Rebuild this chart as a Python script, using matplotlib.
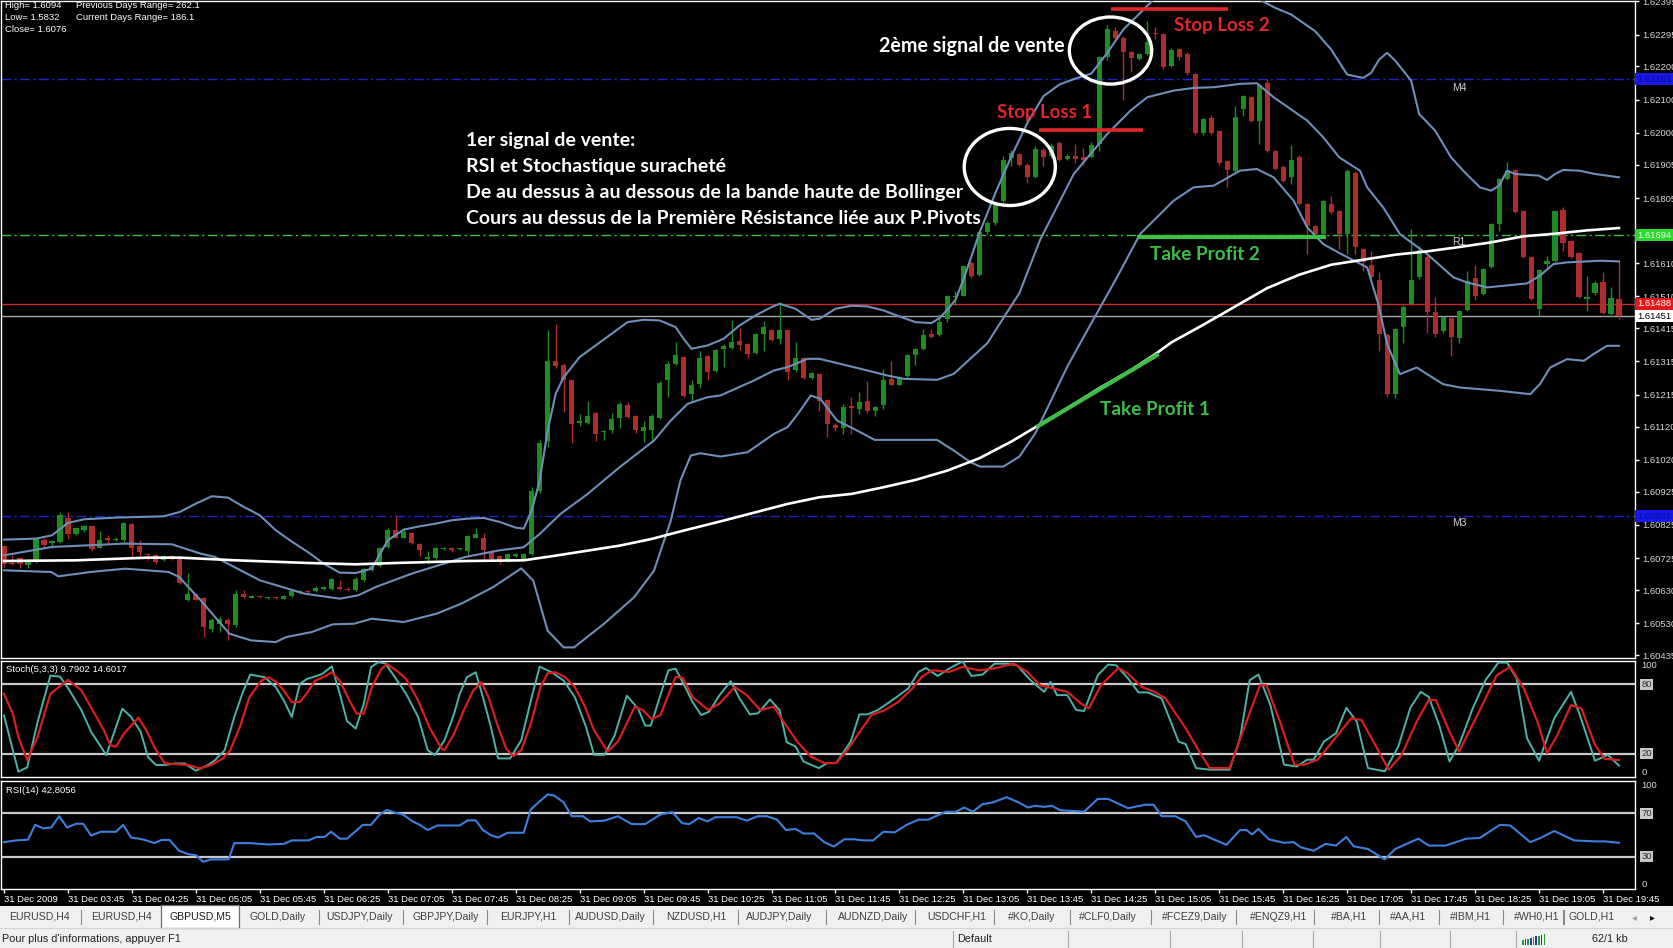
import matplotlib
matplotlib.use("Agg")
import matplotlib.pyplot as plt
import matplotlib.transforms as mtransforms
from matplotlib.patches import Ellipse, Rectangle
import numpy as np

W, H, DPI = 1674, 948, 100
BASE, PIP = 1.6, 0.0001

# GBPUSD M5 candles, 31 Dec 2009, in pips above 1.6000
opens = [
    76.1, 71.0, 72.7, 70.4, 71.4, 77.9, 77.1, 77.4, 84.7, 79.7,
    80.9, 82.1, 75.7, 78.7, 78.0, 77.9, 82.9, 76.3, 73.9, 73.4,
    72.1, 73.1, 72.4, 60.1, 61.7, 60.6, 51.4, 52.9, 54.1, 52.4,
    61.7, 60.7, 61.0, 60.5, 60.9, 60.4, 61.2, 62.1, 62.8, 62.6,
    63.3, 63.2, 63.9, 63.3, 62.9, 65.9, 69.1, 70.1, 75.9, 80.9,
    78.7, 80.2, 76.8, 72.4, 72.6, 75.2, 75.7, 75.2, 74.7, 78.7,
    78.7, 74.7, 73.1, 71.7, 73.2, 72.4, 73.8, 92.6, 107.6, 131.6,
    130.3, 125.8, 113.0, 113.0, 116.0, 110.3, 111.0, 114.6, 118.6, 115.3,
    110.8, 111.0, 114.6, 126.0, 130.6, 132.8, 121.8, 124.6, 133.0, 128.6,
    135.3, 135.5, 137.6, 136.8, 134.0, 139.8, 141.0, 138.1, 141.0, 128.8,
    132.6, 126.5, 127.8, 120.1, 112.6, 111.6, 118.2, 117.2, 119.8, 116.8,
    118.6, 126.3, 124.5, 127.0, 133.3, 135.3, 139.6, 139.3, 144.3, 150.8,
    151.2, 161.0, 157.5, 170.2, 172.9, 179.7, 192.5, 193.7, 190.5, 186.9,
    194.9, 193.0, 196.9, 192.2, 193.2, 192.7, 192.9, 196.7, 222.7, 230.7,
    228.5, 224.2, 222.2, 223.7, 229.8, 229.7, 220.2, 225.2, 223.7, 217.7,
    199.9, 204.5, 200.7, 191.5, 188.7, 207.2, 210.7, 203.7, 214.9, 194.5,
    189.9, 186.7, 192.7, 178.7, 172.2, 169.7, 178.7, 176.5, 169.7, 187.9,
    165.2, 160.5, 155.9, 139.5, 121.7, 141.7, 148.7, 156.7, 162.9, 146.2,
    140.5, 144.5, 138.5, 146.9, 156.5, 151.7, 159.9, 172.7, 186.2, 188.9,
    176.7, 162.9, 147.2, 160.8, 161.5, 176.9, 167.5, 163.9, 150.2, 151.9,
    155.2, 145.7, 150.2,
]
highs = [
    76.5, 73.5, 73.0, 71.5, 79.0, 78.5, 78.0, 86.5, 86.4, 82.0,
    82.5, 82.3, 80.7, 79.4, 78.9, 83.5, 83.2, 78.1, 74.1, 73.9,
    73.5, 73.4, 72.5, 68.1, 62.0, 61.0, 54.5, 55.1, 54.5, 62.9,
    63.0, 61.5, 61.5, 61.0, 61.2, 61.5, 63.0, 62.9, 63.0, 64.1,
    64.2, 66.5, 66.1, 63.9, 67.0, 69.5, 70.4, 76.0, 81.6, 85.6,
    81.5, 80.5, 77.1, 74.6, 76.0, 75.8, 76.0, 75.7, 79.4, 81.5,
    80.1, 75.0, 73.4, 74.0, 74.0, 74.0, 94.0, 108.0, 140.8, 142.6,
    131.0, 126.0, 115.8, 119.6, 116.5, 111.0, 116.0, 119.5, 119.4, 115.6,
    113.6, 115.8, 125.5, 131.6, 137.3, 133.2, 126.0, 134.5, 133.3, 135.3,
    136.8, 144.0, 141.5, 137.0, 140.0, 143.6, 141.3, 149.3, 141.2, 137.3,
    132.8, 128.3, 128.0, 120.3, 113.0, 118.8, 120.8, 122.5, 125.6, 118.3,
    129.3, 131.6, 127.0, 133.6, 135.6, 141.3, 141.3, 145.8, 151.3, 152.5,
    160.5, 161.5, 170.5, 173.5, 179.0, 193.0, 195.0, 194.0, 191.0, 196.0,
    195.5, 197.0, 197.5, 193.8, 196.7, 195.5, 197.3, 223.0, 232.5, 231.7,
    229.0, 224.5, 224.0, 233.7, 231.7, 230.0, 225.5, 225.5, 224.2, 218.0,
    204.5, 205.5, 201.0, 192.0, 208.2, 211.5, 211.0, 215.0, 216.2, 195.0,
    190.3, 196.5, 193.5, 179.0, 172.5, 180.0, 181.2, 177.0, 189.2, 188.5,
    165.5, 164.5, 158.2, 140.0, 141.5, 148.3, 171.2, 166.0, 163.3, 150.7,
    145.0, 144.8, 146.8, 158.7, 160.5, 159.5, 173.0, 186.5, 191.4, 189.2,
    177.0, 163.2, 159.2, 163.2, 177.0, 177.7, 167.8, 164.2, 157.2, 155.5,
    158.2, 153.7, 161.5,
]
lows = [
    70.0, 70.5, 69.5, 69.5, 71.0, 75.5, 75.7, 77.0, 78.4, 79.5,
    80.5, 74.8, 75.5, 77.1, 77.7, 77.5, 72.7, 73.1, 72.1, 70.9,
    71.8, 72.0, 64.9, 59.7, 59.9, 48.9, 50.5, 50.4, 48.1, 52.0,
    60.5, 60.5, 60.5, 60.2, 60.3, 60.2, 61.0, 61.9, 62.2, 62.4,
    63.1, 62.9, 62.9, 62.8, 62.7, 65.5, 68.8, 69.9, 75.7, 78.5,
    78.5, 76.8, 73.3, 71.2, 72.4, 75.0, 74.3, 75.0, 73.4, 78.5,
    72.2, 72.0, 70.8, 71.5, 73.0, 72.2, 73.5, 92.0, 106.0, 129.5,
    116.3, 107.0, 112.3, 112.8, 107.8, 108.0, 110.0, 111.6, 114.5, 110.0,
    107.3, 107.3, 114.3, 120.8, 130.3, 121.0, 119.8, 123.6, 125.8, 128.3,
    129.8, 135.2, 134.8, 132.6, 133.8, 134.6, 137.5, 136.6, 126.0, 128.3,
    126.3, 126.3, 116.8, 108.8, 110.8, 109.8, 109.8, 115.8, 116.0, 115.3,
    117.3, 124.3, 124.3, 126.6, 130.3, 135.0, 138.5, 139.0, 143.3, 148.5,
    151.0, 156.5, 157.0, 169.8, 172.5, 179.0, 190.0, 190.0, 184.9, 186.5,
    190.2, 192.5, 191.5, 191.8, 190.9, 190.5, 192.5, 194.7, 222.0, 228.0,
    209.9, 218.2, 221.8, 223.5, 228.2, 219.2, 219.8, 222.0, 217.5, 199.5,
    199.5, 199.5, 190.5, 183.7, 188.3, 205.0, 203.3, 196.7, 194.3, 188.8,
    185.3, 184.7, 178.3, 163.7, 169.3, 169.3, 175.8, 165.2, 163.7, 163.7,
    158.7, 156.5, 134.7, 120.9, 120.7, 136.9, 148.3, 156.3, 139.9, 138.7,
    140.1, 133.2, 136.9, 146.5, 149.9, 151.3, 159.5, 170.5, 185.9, 175.9,
    162.6, 149.9, 145.2, 159.7, 161.2, 164.7, 162.4, 150.4, 146.7, 151.5,
    145.6, 144.9, 144.3,
]
closes = [
    70.9, 70.8, 70.9, 71.4, 78.4, 76.4, 77.6, 85.4, 79.9, 81.7,
    82.3, 75.4, 78.1, 77.9, 78.3, 83.1, 75.7, 74.4, 73.4, 71.4,
    73.2, 72.3, 65.1, 61.7, 60.1, 51.9, 53.9, 54.4, 52.7, 61.9,
    60.9, 61.1, 60.8, 60.7, 60.6, 61.3, 62.7, 62.6, 62.4, 63.7,
    63.9, 66.2, 63.3, 63.0, 66.3, 69.2, 70.1, 75.7, 80.9, 78.7,
    80.5, 77.1, 74.9, 72.9, 75.6, 75.5, 74.9, 75.5, 79.1, 79.7,
    74.9, 72.4, 71.9, 73.7, 73.7, 73.7, 92.6, 107.0, 131.6, 130.0,
    125.8, 112.8, 113.8, 115.3, 109.8, 110.8, 114.3, 118.8, 114.8, 111.0,
    111.8, 115.3, 125.1, 130.8, 133.3, 121.3, 124.3, 132.6, 128.3, 135.0,
    136.0, 137.3, 136.3, 133.6, 139.8, 141.8, 137.8, 140.8, 128.3, 132.6,
    126.5, 128.0, 119.8, 112.8, 111.6, 118.0, 117.6, 119.3, 116.6, 118.0,
    125.8, 124.5, 126.8, 133.3, 135.3, 139.3, 138.8, 143.3, 151.0, 151.0,
    160.0, 157.2, 170.2, 172.9, 178.5, 191.9, 194.1, 190.5, 186.7, 195.2,
    192.7, 196.0, 191.9, 193.2, 192.2, 191.9, 196.5, 222.7, 231.2, 228.5,
    224.2, 222.5, 223.7, 227.2, 229.6, 219.7, 224.9, 222.7, 217.9, 199.9,
    204.2, 199.9, 190.9, 188.9, 204.9, 211.2, 203.7, 214.5, 194.7, 189.2,
    185.7, 191.9, 178.7, 172.2, 169.7, 179.7, 176.2, 169.7, 188.5, 165.9,
    161.2, 156.9, 139.7, 121.9, 141.2, 147.9, 155.9, 164.9, 146.2, 139.7,
    144.7, 138.9, 146.5, 155.7, 151.2, 159.2, 172.7, 186.2, 188.7, 176.2,
    162.9, 150.2, 158.9, 161.5, 176.7, 166.9, 162.7, 150.7, 150.9, 154.9,
    145.9, 150.5, 145.1,
]

# indicators: (bar, value); bands / MA in pips above 1.6000
bb_upper = [
    (0, 78.1), (4, 78.4), (6, 79.4), (8, 83.1), (10, 84.2), (14, 84.7), (20, 85.1),
    (22, 86.4), (24, 88.9), (26, 91.1), (28, 90.7), (30, 87.9), (32, 85.4), (34, 80.9),
    (36, 77.5), (38, 74.4), (40, 70.9), (42, 68.2), (44, 68.1), (46, 69.4), (48, 77.9),
    (50, 81.1), (52, 82.1), (54, 82.9), (56, 83.9), (58, 84.4), (60, 84.6), (62, 83.4),
    (64, 81.7), (65, 81.4), (66, 86.8), (67, 95.8), (68, 110.8), (69, 121.8), (70, 126.8),
    (72, 132.8), (74, 136.3), (76, 139.8), (78, 143.3), (80, 144.0), (82, 143.8),
    (84, 141.8), (85, 138.3), (86, 135.3), (88, 136.3), (90, 138.3), (92, 142.3),
    (94, 145.3), (96, 147.8), (97, 148.8), (99, 147.3), (101, 144.0), (102, 144.3),
    (104, 147.3), (106, 148.2), (108, 148.0), (110, 146.8), (112, 145.0), (114, 143.3),
    (116, 143.0), (117, 144.5), (118, 147.0), (119, 150.0), (120, 156.0), (122, 170.0),
    (124, 182.0), (126, 193.0), (128, 203.0), (130, 211.0), (132, 214.5), (134, 216.3),
    (136, 217.8), (138, 224.0), (140, 231.0), (142, 235.7), (144, 240.5), (146, 244.0),
    (150, 247.0), (154, 245.0), (157, 240.0), (159, 237.5), (161, 235.5), (164, 230.5),
    (166, 225.0), (168, 217.5), (170, 216.5), (171, 218.0), (172, 222.0), (173, 224.0),
    (174, 221.7), (176, 215.7), (177, 205.7), (179, 200.7), (181, 192.7), (182.5, 188.7),
    (184.6, 183.7), (186, 182.7), (187, 184.2), (188, 188.7), (189, 187.7), (192, 187.2),
    (193, 185.9), (194, 187.7), (195, 188.9), (197, 188.7), (199, 187.7), (202, 186.7),
]
bb_middle = [
    (0, 73.4), (6, 75.9), (15, 76.9), (21, 76.7), (24.6, 73.9), (26.4, 72.9), (32, 65.9),
    (37.6, 61.9), (42, 60.4), (44.3, 61.4), (46.5, 63.9), (51, 67.9), (53, 69.4),
    (57.7, 72.9), (62, 74.9), (65, 75.8), (67, 79.8), (69.6, 85.8), (73, 91.8), (77, 99.8),
    (81.3, 107.8), (83.4, 113.8), (85.5, 118.8), (88, 120.8), (89.6, 121.3), (93.8, 125.8),
    (96.3, 128.8), (98, 129.8), (100.5, 132.3), (102, 132.3), (106.3, 129.8),
    (110.5, 127.3), (112.5, 126.3), (116.7, 126.0), (118.8, 127.8), (123, 137.0),
    (127, 152.0), (129.6, 168.0), (133.8, 187.7), (138, 199.7), (140.9, 206.7),
    (143, 210.7), (146.3, 212.7), (148.8, 213.5), (151.3, 213.7), (154.6, 214.7),
    (156.7, 214.9), (158.8, 210.7), (163, 203.7), (165, 198.7), (167, 192.7),
    (169.6, 188.7), (170.5, 183.7), (172.5, 177.7), (174.6, 169.7), (178, 163.7),
    (181.3, 156.7), (183, 155.2), (185.5, 153.7), (190.5, 154.9), (192.1, 157.2),
    (193.8, 160.7), (195.5, 161.2), (199.6, 161.7), (202, 161.5),
]
bb_lower = [
    (0, 68.9), (5.9, 68.4), (6.8, 67.1), (10.8, 68.4), (15.2, 69.4), (20.6, 68.4),
    (21.9, 66.9), (24.6, 59.9), (28.2, 49.9), (30.9, 47.9), (34, 47.4), (35.3, 48.9),
    (38.5, 50.4), (41.1, 52.7), (43.8, 52.9), (46, 54.4), (50, 53.4), (54.1, 55.9),
    (57.2, 58.9), (61.2, 63.9), (64.7, 69.5), (66.2, 65.8), (68, 50.8), (70, 45.8),
    (71.3, 45.8), (75, 52.8), (78.8, 60.8), (81.3, 68.8), (83.4, 83.8), (84.6, 95.8),
    (85.9, 103.3), (87.1, 104.0), (89.6, 103.0), (93, 104.3), (96.3, 109.8), (98, 111.8),
    (99.3, 115.8), (100.9, 121.3), (102.1, 120.3), (104.2, 113.8), (106.3, 111.3),
    (108.9, 108.0), (113.8, 108.0), (116.7, 108.0), (118.8, 104.8), (120.9, 101.3),
    (122.1, 100.0), (125, 100.0), (127, 103.0), (129, 110.0), (131, 120.0), (133, 130.0),
    (135, 138.7), (139.2, 156.7), (142.1, 169.7), (146.3, 179.7), (148.8, 183.7),
    (151.3, 184.2), (154.6, 188.7), (156.7, 189.2), (158.8, 186.7), (161.3, 179.7),
    (163, 171.7), (165, 166.7), (167.1, 163.9), (170.5, 159.7), (171.9, 148.7),
    (173, 136.7), (174.6, 127.7), (176.7, 129.7), (178, 127.7), (180, 124.7),
    (182.1, 123.7), (184.6, 123.2), (187.1, 122.7), (190.9, 121.7), (192.1, 124.7),
    (193.4, 129.7), (195.5, 132.2), (197.6, 131.7), (198.8, 133.7), (200.5, 136.2),
    (202, 136.2),
]
ma_line = [
    (0, 71.7), (9, 71.9), (18, 72.7), (22, 72.7), (29, 71.9), (38, 71.1), (44, 70.7),
    (49, 71.1), (58, 71.7), (65, 71.9), (69, 73.3), (73, 74.8), (77, 76.3), (81, 78.3),
    (85, 80.8), (90, 83.8), (94, 86.3), (98, 88.8), (102, 90.8), (106, 91.8), (110, 93.8),
    (114, 96.0), (118, 98.8), (122, 102.5), (126, 107.5), (129, 111.8), (133, 117.5),
    (137, 123.5), (141, 129.0), (144, 133.7), (146, 137.2), (150, 142.5), (154, 148.0),
    (158, 153.5), (162, 157.5), (166, 160.5), (170, 162.0), (174, 163.5), (178, 164.5),
    (182, 165.8), (186, 167.2), (190, 169.0), (194, 169.8), (198, 170.8), (202, 171.5),
]
stoch_main = [
    (0, 53.1), (1.8, 4.6), (2.9, 8.3), (4.2, 47.4), (5.8, 87.4), (7, 86.6), (8.2, 74.6),
    (9.7, 57.4), (10.9, 38.9), (12.8, 18.9), (14.8, 58.9), (15.9, 51.7), (17.1, 38.9),
    (18, 17.4), (19, 10.3), (20.2, 10.3), (21.4, 11.7), (22.6, 11.7), (24, 5.4),
    (25.5, 10.3), (26.4, 14.6), (27.6, 23.1), (28.8, 51.7), (29.8, 71.7), (30.8, 88.3),
    (32.6, 86.0), (34, 77.4), (35, 66.0), (36, 51.7), (37, 80.3), (37.9, 84.6),
    (38.9, 86.6), (39.8, 88.9), (41, 95.4), (42, 71.7), (42.9, 48.3), (44, 41.7),
    (45, 63.1), (45.9, 94.6), (46.8, 98.9), (47.7, 98.0), (48.9, 86.0), (50.3, 71.7),
    (51.8, 51.7), (53, 23.1), (53.9, 18.9), (55.1, 31.7), (56.3, 54.6), (57, 71.7),
    (57.9, 86.0), (59, 90.3), (59.9, 68.9), (60.9, 43.1), (61.8, 16.0), (63.3, 16.0),
    (64.7, 31.7), (65.9, 66.0), (67, 95.1), (68.5, 90.3), (70, 83.1), (71.4, 68.9),
    (72.8, 43.1), (73.8, 19.1), (75.1, 19.1), (76.4, 36.3), (77.9, 70.0), (79.3, 59.1),
    (80.2, 44.3), (80.9, 44.3), (82.1, 70.6), (83.1, 92.0), (84, 93.4), (85.3, 76.3),
    (86.1, 64.9), (87.2, 53.4), (88.2, 56.3), (89.5, 70.6), (90.9, 82.6), (92, 67.7),
    (93.3, 54.0), (94.3, 54.9), (95.8, 66.9), (97, 57.7), (97.9, 30.0), (99, 26.3),
    (100, 13.4), (101.9, 7.7), (103, 12.0), (104.1, 12.0), (105.9, 30.6), (107, 54.0),
    (108, 54.0), (109.3, 57.7), (111.4, 67.7), (113.1, 76.3), (114.4, 90.6), (115.3, 94.0),
    (116.8, 87.1), (118.2, 93.4), (119.9, 99.7), (121, 87.1), (122.4, 88.3), (123.9, 97.7),
    (125.4, 97.7), (126.7, 96.3), (128.4, 83.4), (130.1, 73.4), (130.9, 82.0),
    (131.7, 70.6), (133, 70.6), (134.1, 57.7), (135.1, 56.9), (136.8, 87.7), (138.1, 96.9),
    (139.1, 96.3), (140.6, 84.9), (141.9, 72.9), (143.1, 72.9), (144.8, 67.7),
    (146.9, 30.6), (147.8, 28.3), (149.1, 7.7), (150.8, 6.3), (153.3, 6.3), (154.6, 33.4),
    (155.8, 83.4), (156.9, 88.3), (158.4, 62.0), (160.1, 10.6), (161.7, 9.1), (163, 14.9),
    (163.8, 14.9), (165.1, 30.6), (166.6, 37.7), (167.9, 59.7), (169.2, 47.7),
    (170.6, 7.7), (172.7, 4.9), (174.4, 26.3), (175.9, 59.7), (177.2, 73.4), (178.2, 69.1),
    (179.5, 44.9), (180.8, 13.4), (182, 27.7), (183.7, 59.1), (185.3, 83.4), (186.9, 98.6),
    (188, 98.6), (189.2, 84.9), (190.5, 33.4), (192, 14.0), (193.9, 50.6), (196, 73.4),
    (197.1, 53.4), (199, 14.0), (200.6, 19.1), (202, 9.8),
]
stoch_signal = [
    (0, 71.7), (1.1, 54.6), (1.8, 34.6), (2.9, 14.6), (4.2, 34.6), (5.8, 71.7), (8, 83.7),
    (9.7, 74.6), (11.1, 57.4), (12.5, 40.3), (13.3, 27.4), (14, 26.0), (15, 37.4),
    (16.8, 51.1), (17.8, 40.3), (18.8, 26.0), (20.1, 11.7), (21.6, 11.1), (23.1, 10.3),
    (24.5, 7.4), (25.9, 10.3), (27.4, 16.0), (28.3, 23.1), (29.5, 43.1), (30.7, 68.9),
    (32.2, 83.1), (33.1, 86.0), (34.1, 81.7), (35, 74.6), (36, 64.6), (37, 64.6),
    (37.9, 72.3), (38.9, 83.1), (40.1, 86.6), (41, 90.3), (42, 83.1), (43.2, 66.0),
    (44.1, 54.6), (45, 54.6), (46, 77.4), (47.2, 93.1), (47.9, 97.4), (49.1, 91.7),
    (50.3, 84.6), (51.8, 66.0), (53.2, 43.1), (54.7, 24.6), (55.1, 23.1), (56.3, 37.4),
    (57.5, 57.4), (58.7, 74.6), (59.7, 81.7), (60.6, 68.9), (61.8, 43.1), (62.8, 24.6),
    (63.7, 18.0), (64.7, 23.1), (65.9, 46.0), (67.1, 77.4), (68, 89.4), (69, 90.3),
    (70.2, 86.0), (71.4, 77.4), (72.6, 61.7), (73.8, 40.3), (75.5, 22.0), (76.8, 30.6),
    (78.9, 60.6), (79.9, 57.7), (81, 50.0), (82.1, 53.4), (84, 86.3), (84.9, 85.4),
    (86.1, 69.1), (88.1, 57.7), (89.5, 63.4), (91.4, 77.7), (92.9, 70.6), (94.6, 57.7),
    (96.3, 60.6), (97.5, 47.7), (99.2, 30.6), (100.9, 17.7), (102.6, 12.0), (104.1, 12.0),
    (105.5, 23.4), (107.2, 40.6), (108.5, 53.4), (110.2, 57.7), (111.9, 64.9),
    (113.6, 76.3), (114.8, 86.3), (116.1, 92.0), (118.2, 90.6), (119.9, 94.9), (122, 92.0),
    (123.7, 93.4), (126.3, 97.7), (128, 90.6), (129.6, 79.1), (131.3, 76.3), (133, 73.4),
    (134.7, 63.4), (135.7, 59.1), (137.2, 79.1), (139.4, 94.0), (140.6, 89.1),
    (142.3, 77.7), (143.9, 73.4), (145.3, 67.7), (147.8, 42.0), (149.5, 22.0), (150.8, 7.7),
    (153.3, 7.7), (155.4, 47.7), (157.1, 79.1), (157.9, 79.1), (159.6, 47.7), (161.4, 10.6),
    (162.6, 10.6), (164.3, 14.9), (166, 29.1), (168.5, 50.6), (169.8, 49.1), (171.5, 27.7),
    (173.2, 6.3), (174.8, 19.1), (176.8, 49.1), (178.2, 66.3), (179.1, 66.3), (180.8, 39.1),
    (182, 22.0), (184.6, 57.7), (186.7, 87.7), (188.4, 94.9), (190.1, 76.3), (191.8, 47.7),
    (193, 20.6), (194.3, 36.3), (196, 62.0), (197.3, 59.1), (199, 27.7), (200.2, 15.7),
    (202, 14.6),
]
rsi14 = [
    (0, 43.4), (1.5, 45.0), (3, 45.7), (3.9, 59.4), (4.9, 56.2), (5.9, 56.9), (6.9, 67.4),
    (7.9, 56.9), (9, 60.4), (9.9, 60.4), (10.9, 49.5), (12.1, 53.0), (14, 53.0),
    (14.9, 59.4), (15.9, 47.6), (16.9, 46.6), (17.8, 45.0), (18.8, 42.5), (19.7, 45.4),
    (20.7, 45.4), (21.9, 35.4), (23.1, 32.2), (24, 31.3), (24.9, 25.2), (25.9, 27.4),
    (28.1, 27.4), (28.8, 42.5), (30.7, 42.5), (33.1, 41.2), (35, 41.8), (36, 45.0),
    (38.1, 45.0), (39.1, 48.2), (40.1, 48.2), (40.9, 53.0), (42, 46.6), (42.9, 46.6),
    (44.9, 59.4), (45.9, 59.4), (47, 69.0), (47.9, 73.2), (48.9, 70.6), (49.9, 69.0),
    (51.1, 62.6), (52, 59.4), (53, 54.6), (54.2, 58.8), (57, 58.8), (58, 63.6), (59, 63.6),
    (59.9, 54.6), (60.9, 49.8), (61.8, 47.6), (63, 52.1), (65, 52.1), (65.9, 73.8),
    (67.1, 81.8), (68, 87.6), (68.8, 86.6), (70, 80.2), (71, 67.4), (72.4, 67.4),
    (73.3, 62.6), (75.1, 63.3), (76.8, 67.4), (78.5, 60.1), (80.2, 60.1), (82.1, 69.0),
    (83.6, 71.3), (84.8, 61.0), (85.7, 60.1), (86.9, 65.8), (88, 62.6), (89, 66.5),
    (91.6, 66.5), (92.9, 63.3), (94.3, 67.4), (95.4, 67.4), (96.7, 64.2), (97.8, 54.6),
    (99, 55.6), (100, 51.4), (101.3, 51.4), (102.6, 43.4), (103.8, 39.3), (105.1, 46.0),
    (106.4, 46.0), (107.5, 45.0), (108.7, 45.0), (110, 53.0), (111.4, 52.4), (112.9, 59.4),
    (114.4, 64.2), (115.6, 64.2), (117.8, 71.6), (119, 71.3), (120.1, 75.4), (121.2, 71.6),
    (122.4, 78.6), (123.7, 80.2), (125.4, 85.0), (126.9, 80.2), (128.1, 75.4), (128.9, 77.0),
    (130.1, 76.1), (131.1, 77.0), (132.1, 72.9), (135.1, 71.6), (136.8, 83.4),
    (138.1, 83.4), (140.6, 74.8), (142.7, 78.0), (143.8, 78.0), (144.8, 67.4),
    (146.5, 67.4), (147.8, 62.6), (149.1, 48.2), (150.1, 49.8), (151.6, 45.0),
    (152.9, 40.9), (154.6, 54.6), (155.4, 54.6), (156.1, 50.5), (156.9, 55.6),
    (158.2, 46.0), (160.1, 42.8), (161.3, 43.4), (162.2, 38.6), (163.8, 35.4),
    (165.3, 41.8), (166.6, 40.2), (167.9, 48.2), (168.8, 39.6), (170.6, 37.0),
    (172.7, 27.4), (174, 37.0), (176.9, 46.6), (178.2, 40.2), (180.3, 40.2), (182.9, 46.6),
    (184.6, 47.3), (187.1, 59.4), (188.4, 58.8), (190.9, 43.4), (192.2, 47.3),
    (193.9, 53.7), (196.4, 45.0), (199, 44.1), (200.2, 44.1), (202, 42.8),
]

# pivot levels and current prices
pivot_m4, pivot_r1, pivot_m3 = 1.62161, 1.61694, 1.60851
ask_line, bid_line = 1.61488, 1.61451

price_ticks = [1.62395, 1.62295, 1.62200, 1.62100, 1.62000, 1.61905, 1.61805, 1.61710,
               1.61610, 1.61510, 1.61415, 1.61315, 1.61215, 1.61120, 1.61020, 1.60925,
               1.60825, 1.60725, 1.60630, 1.60530, 1.60435]
hidden_tick = 1.61710  # covered by the R1 price tag on the terminal
time_ticks = list(range(0, 201, 8))
time_labels = ["31 Dec 2009", "31 Dec 03:45", "31 Dec 04:25", "31 Dec 05:05", "31 Dec 05:45",
               "31 Dec 06:25", "31 Dec 07:05", "31 Dec 07:45", "31 Dec 08:25", "31 Dec 09:05",
               "31 Dec 09:45", "31 Dec 10:25", "31 Dec 11:05", "31 Dec 11:45", "31 Dec 12:25",
               "31 Dec 13:05", "31 Dec 13:45", "31 Dec 14:25", "31 Dec 15:05", "31 Dec 15:45",
               "31 Dec 16:25", "31 Dec 17:05", "31 Dec 17:45", "31 Dec 18:25", "31 Dec 19:05",
               "31 Dec 19:45"]
tabs = ["EURUSD,H4", "EURUSD,H4", "GBPUSD,M5", "GOLD,Daily", "USDJPY,Daily", "GBPJPY,Daily",
        "EURJPY,H1", "AUDUSD,Daily", "NZDUSD,H1", "AUDJPY,Daily", "AUDNZD,Daily", "USDCHF,H1",
        "#KO,Daily", "#CLF0,Daily", "#FCEZ9,Daily", "#ENQZ9,H1", "#BA,H1", "#AA,H1", "#IBM,H1",
        "#WH0,H1", "GOLD,H1"]
active_tab = 2

# layout (pixels)
tab_x = [39.6, 121.7, 200.3, 278, 360, 445.4, 528.4, 610.3, 696.3, 778.8, 873, 956.5,
         1031.8, 1108.3, 1194.7, 1278.3, 1349.3, 1408.5, 1470, 1537, 1591.6]
status_seps = [952.7, 1068.4, 1170.2, 1241.7, 1312.8, 1380, 1450, 1516]

GREEN, RED = "#1f8c23", "#b02b2b"
BAND, MA = "#6d8fb8", "#ffffff"

plt.rcParams["font.family"] = ["Liberation Sans", "DejaVu Sans"]
BOLD = dict(family=["Lato", "DejaVu Sans"], fontweight="bold")


def price(v):
    return BASE + np.asarray(v, dtype=float) * PIP


def xy(pairs):
    a = np.array(pairs, dtype=float)
    return a[:, 0], a[:, 1]


fig = plt.figure(figsize=(W / DPI, H / DPI), dpi=DPI, facecolor="black")
PX = mtransforms.Affine2D().scale(1.0 / W, -1.0 / H).translate(0, 1) + fig.transFigure


def rect(x0, y0, x1, y1):
    return [x0 / W, 1 - y1 / H, (x1 - x0) / W, (y1 - y0) / H]


ax = fig.add_axes(rect(1, 1, 1635, 658))
ax_st = fig.add_axes(rect(1, 661, 1635, 777))
ax_rsi = fig.add_axes(rect(1, 781, 1635, 889))

for a in (ax, ax_st, ax_rsi):
    a.set_facecolor("black")
    for s in a.spines.values():
        s.set_color("white")
        s.set_linewidth(1.0)
    a.set_xlim(-0.375, 204.0)
    a.tick_params(axis="x", bottom=False, labelbottom=False)
    a.tick_params(axis="y", left=False, labelleft=False)

# ---- main chart ----
o, h, l, c = price(opens), price(highs), price(lows), price(closes)
idx = np.arange(len(c))
col = np.where(c >= o, GREEN, RED)
ax.vlines(idx, l, h, colors=col, lw=1.0, zorder=2)
body = np.maximum(np.abs(c - o), 0.3 * PIP)
ax.bar(idx, body, bottom=np.minimum(o, c), width=0.64, color=col, linewidth=0, zorder=2)

for lev in (pivot_m4, pivot_m3):
    ax.axhline(lev, color="#2222cc", lw=1.0, ls=(0, (7, 2.5, 1.5, 2.5)), zorder=1)
ax.axhline(pivot_r1, color="#3fbf45", lw=1.0, ls=(0, (7, 2.5, 1.5, 2.5)), zorder=1)
ax.axhline(ask_line, color="#c62828", lw=1.0, zorder=1)
ax.axhline(bid_line, color="#a8a8a8", lw=1.0, zorder=1)

for band in (bb_upper, bb_middle, bb_lower):
    bx, by = xy(band)
    ax.plot(bx, price(by), color=BAND, lw=1.5, zorder=3)
mx, my = xy(ma_line)
ax.plot(mx, price(my), color=MA, lw=1.9, zorder=3)

ax.set_ylim(1.604262, 1.623955)
ax.yaxis.tick_right()
ax.set_yticks(price_ticks)
ax.set_yticklabels(["" if v == hidden_tick else f"{v:.5f}" for v in price_ticks])
ax.tick_params(axis="y", right=True, labelright=True, length=3, width=1, color="white",
               labelcolor="#d8d8d8", labelsize=6.8, pad=2)

ytr = ax.get_yaxis_transform()
for lev, fc, tc in [(pivot_m4, "#1818e8", "#0a0a9a"), (pivot_r1, "#2fd82f", "#eaffea"),
                    (ask_line, "#e01a1a", "#ffffff"), (bid_line, "#ffffff", "#000000"),
                    (pivot_m3, "#1818e8", "#0a0a9a")]:
    ax.text(1.0012, lev, f"{lev:.5f}", transform=ytr, ha="left", va="center", fontsize=6.8,
            color=tc, clip_on=False, zorder=10,
            bbox=dict(boxstyle="square,pad=0.18", fc=fc, ec="none"))

for name, yv in [("M4", 213.6), ("R1", 167.2), ("M3", 83.0)]:
    ax.text(181.1, price(yv), name, color="#d0d0d0", fontsize=7.5, ha="left", va="center",
            zorder=4)

# trade annotations
ax.add_patch(Ellipse((125.8, price(189.8)), 11.4, 23.1 * PIP, fill=False, ec="white",
                     lw=2.4, zorder=6))
ax.add_patch(Ellipse((138.4, price(224.7)), 10.3, 20.1 * PIP, fill=False, ec="white",
                     lw=2.4, zorder=6))
ax.plot([138.4, 153.1], price([237.1, 237.1]), color="#e3262b", lw=2.6, zorder=6,
        solid_capstyle="butt")
ax.plot([129.5, 142.5], price([200.75, 200.75]), color="#e3262b", lw=2.6, zorder=6,
        solid_capstyle="butt")
ax.plot([141.7, 165.3], price([168.8, 168.8]), color="#3dbf4a", lw=3.0, zorder=6,
        solid_capstyle="butt")
ax.plot([129.1, 144.4], price([111.8, 133.7]), color="#3dbf4a", lw=3.0, zorder=6,
        solid_capstyle="butt")

ax.text(109.5, price(226.2), "2ème signal de vente", color="white", fontsize=14.2, ha="left",
        va="center", zorder=7, **BOLD)
ax.text(146.4, price(232.3), "Stop Loss 2", color="#e3262b", fontsize=13.5, ha="left",
        va="center", zorder=7, **BOLD)
ax.text(124.2, price(206.1), "Stop Loss 1", color="#e3262b", fontsize=13.4, ha="left",
        va="center", zorder=7, **BOLD)
ax.text(143.4, price(163.6), "Take Profit 2", color="#3dbf4a", fontsize=13.7, ha="left",
        va="center", zorder=7, **BOLD)
ax.text(137.1, price(117.2), "Take Profit 1", color="#3dbf4a", fontsize=13.7, ha="left",
        va="center", zorder=7, **BOLD)
block = ["1er signal de vente:", "RSI et Stochastique suracheté",
         "De au dessus à au dessous de la bande haute de Bollinger",
         "Cours au dessus de la Première Résistance liée aux P.Pivots"]
for txt, yv in zip(block, [197.75, 189.8, 182.2, 174.4]):
    ax.text(57.75, price(yv), txt, color="white", fontsize=14, ha="left", va="center",
            zorder=7, **BOLD)

# ---- stochastic ----
ax_st.set_ylim(0, 100)
for lv in (80, 20):
    ax_st.axhline(lv, color="#c8c8c8", lw=1.6, zorder=1)
sx, sy = xy(stoch_main)
ax_st.plot(sx, sy, color="#4db3a8", lw=1.4, zorder=3)
dx, dy = xy(stoch_signal)
ax_st.plot(dx, dy, color="#d81e1e", lw=1.6, zorder=3)

# ---- RSI ----
ax_rsi.set_ylim(0, 100)
for lv in (70, 30):
    ax_rsi.axhline(lv, color="#c8c8c8", lw=1.6, zorder=1)
rx, ry = xy(rsi14)
ax_rsi.plot(rx, ry, color="#3d7fdc", lw=1.5, zorder=3)

for a, vals, boxed in [(ax_st, (100, 80, 20, 0), (80, 20)), (ax_rsi, (100, 70, 30, 0), (70, 30))]:
    tr = a.get_yaxis_transform()
    for v in vals:
        va = "top" if v == 100 else ("bottom" if v == 0 else "center")
        kw = dict(bbox=dict(boxstyle="square,pad=0.12", fc="#c8c8c8", ec="none")) if v in boxed else {}
        a.text(1.004, v, str(v), transform=tr, ha="left", va=va, fontsize=6.8,
               color="#303030" if v in boxed else "#d8d8d8", clip_on=False, **kw)

ax_rsi.set_xticks(time_ticks)
ax_rsi.set_xticklabels(time_labels)
ax_rsi.tick_params(axis="x", bottom=True, labelbottom=True, direction="out", length=3,
                   width=1, color="white", labelcolor="white", labelsize=6.8, pad=1.5)
for lbl in ax_rsi.get_xticklabels():
    lbl.set_horizontalalignment("left")

# ---- text overlays ----
fig.text(5, 6, "High= 1.6094", transform=PX, color="white", fontsize=6.8, va="center")
fig.text(76, 6, "Previous Days Range= 262.1", transform=PX, color="white", fontsize=6.8,
         va="center")
fig.text(5, 17.5, "Low= 1.5832", transform=PX, color="white", fontsize=6.8, va="center")
fig.text(76, 17.5, "Current Days Range= 186.1", transform=PX, color="white", fontsize=6.8,
         va="center")
fig.text(5, 29.5, "Close= 1.6076", transform=PX, color="white", fontsize=6.8, va="center")
fig.text(6, 670, "Stoch(5,3,3) 9.7902 14.6017", transform=PX, color="white", fontsize=6.8,
         va="center")
fig.text(6, 790.5, "RSI(14) 42.8056", transform=PX, color="white", fontsize=6.8, va="center")

# ---- terminal tab bar and status bar ----
fig.patches.append(Rectangle((0, 906), W, 22, transform=PX, fc="#f0f0f0", ec="none"))
fig.patches.append(Rectangle((0, 929), W, 19, transform=PX, fc="#f0f0f0", ec="none"))
fig.lines.append(plt.Line2D([0, W], [928.5, 928.5], transform=PX, color="#d4d4d4", lw=0.8))
fig.patches.append(Rectangle((161, 905), 78.5, 23, transform=PX, fc="white", ec="#6e6e6e",
                             lw=0.9))
for k, (name, cx) in enumerate(zip(tabs, tab_x)):
    fig.text(cx, 917, name, transform=PX, ha="center", va="center", fontsize=7.6,
             color="#1a1a1a" if k == active_tab else "#404040")
    if k + 1 < len(tabs) and k not in (active_tab - 1, active_tab):
        sx_ = (cx + tab_x[k + 1]) / 2
        fig.lines.append(plt.Line2D([sx_, sx_], [910, 924], transform=PX, color="#8a8a8a",
                                    lw=0.8))
fig.lines.append(plt.Line2D([1563, 1563], [910, 924], transform=PX, color="#8a8a8a", lw=0.8))
fig.text(1634, 917, "◂", transform=PX, ha="center", va="center", fontsize=7,
         color="#a0a0a0", family="DejaVu Sans")
fig.text(1652, 917, "▸", transform=PX, ha="center", va="center", fontsize=7,
         color="#101010", family="DejaVu Sans")

fig.text(2, 939, "Pour plus d'informations, appuyer F1", transform=PX, ha="left",
         va="center", fontsize=7.8, color="#202020")
fig.text(957, 939, "Default", transform=PX, ha="left", va="center", fontsize=7.8,
         color="#202020")
fig.text(1592, 939, "62/1 kb", transform=PX, ha="left", va="center", fontsize=7.8,
         color="#202020")
for sxp in status_seps:
    fig.lines.append(plt.Line2D([sxp, sxp], [931, 947], transform=PX, color="#a8a8a8", lw=0.8))
for k in range(9):
    fig.patches.append(Rectangle((1522 + 2.7 * k, 945), 1.6, -(5 + k * 0.7), transform=PX,
                                 fc="#2a9a2a" if k % 2 == 0 else "#2a3a9a", ec="none"))

fig.savefig("out.png", dpi=DPI, facecolor="black")
